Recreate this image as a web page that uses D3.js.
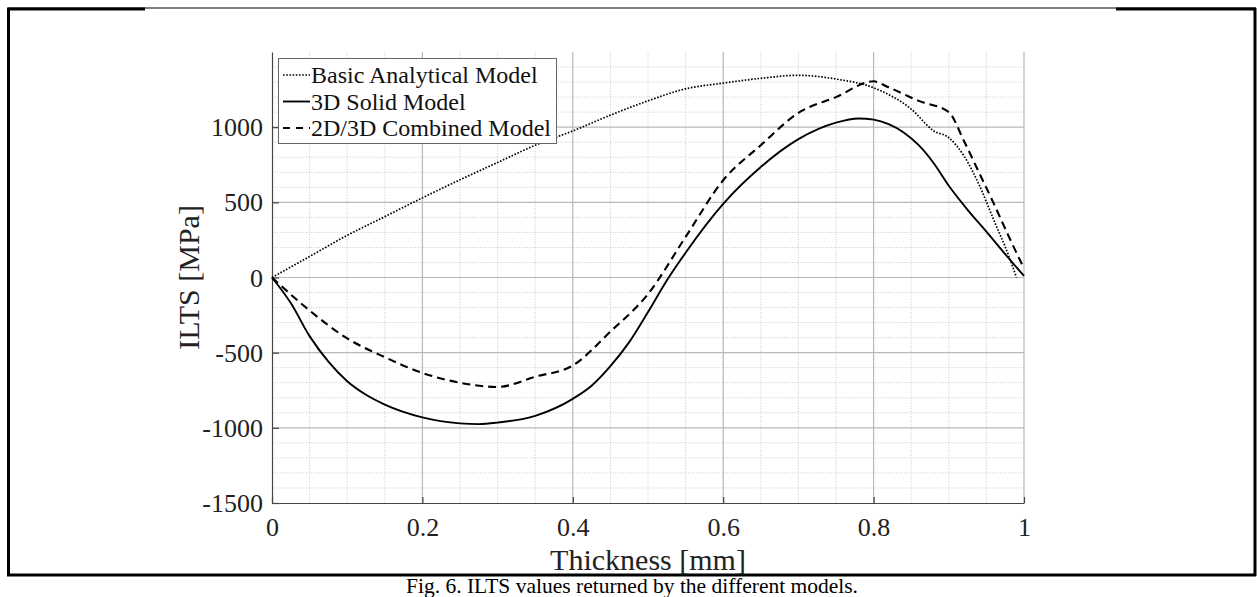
<!DOCTYPE html>
<html>
<head>
<meta charset="utf-8">
<script src="https://cdn.jsdelivr.net/npm/d3@7"></script>
<style>
  html, body { margin: 0; padding: 0; background: #fff; }
  svg { display: block; font-family: "Liberation Serif", "Times New Roman", serif; }
</style>
</head>
<body>
<svg id="chart" width="1258" height="597"></svg>
<script>
// Data (thickness in mm, ILTS in MPa)
const basicT = [0, 0.05, 0.1, 0.15, 0.2, 0.25, 0.3, 0.35, 0.4, 0.45, 0.5, 0.55, 0.6, 0.65, 0.7, 0.75, 0.8, 0.85, 0.88, 0.9, 0.92, 0.94, 0.96, 0.98, 0.99];
const basicV = [0, 140, 280, 405, 530, 650, 765, 880, 975, 1080, 1175, 1255, 1293, 1325, 1345, 1320, 1262, 1120, 975, 930, 810, 620, 380, 140, 0];

const solidT = [0, 0.025, 0.05, 0.075, 0.1, 0.125, 0.15, 0.2, 0.25, 0.275, 0.3, 0.35, 0.4, 0.425, 0.45, 0.475, 0.5, 0.525, 0.55, 0.6, 0.65, 0.7, 0.75, 0.78, 0.8, 0.82, 0.84, 0.86, 0.88, 0.9, 0.925, 0.95, 0.975, 1.0];
const solidV = [0, -170, -390, -560, -690, -780, -845, -930, -970, -975, -965, -920, -807, -720, -590, -430, -230, -20, 165, 490, 735, 920, 1030, 1058, 1050, 1020, 965, 880, 760, 610, 450, 305, 155, 10];

const combT = [0, 0.05, 0.1, 0.15, 0.2, 0.25, 0.3, 0.35, 0.4, 0.45, 0.5, 0.55, 0.6, 0.65, 0.7, 0.75, 0.8, 0.82, 0.86, 0.9, 0.92, 0.94, 0.96, 0.98, 1.0];
const combV = [0, -220, -405, -530, -635, -700, -728, -660, -585, -360, -110, 270, 647, 880, 1095, 1200, 1305, 1265, 1175, 1100, 910, 700, 490, 270, 60];

const xTicks = [0, 0.2, 0.4, 0.6, 0.8, 1];
const yTicks = [-1500, -1000, -500, 0, 500, 1000];
const legendNames = ["Basic Analytical Model", "3D Solid Model", "2D/3D Combined Model"];

const svg = d3.select("#chart");

// plot area
const pLeft = 272, pRight = 1024, pTop = 52, pBottom = 503;

const x = d3.scaleLinear().domain([0, 1]).range([pLeft, pRight]);
const y = d3.scaleLinear().domain([-1500, 1500]).range([pBottom, pTop]);

// frame round the figure
const frame = svg.append("g").attr("stroke", "#000").attr("fill", "none");
frame.append("line").attr("x1", 8).attr("x2", 1256).attr("y1", 8).attr("y2", 8).attr("stroke-width", 1.2);
frame.append("line").attr("x1", 7).attr("x2", 145).attr("y1", 9).attr("y2", 9).attr("stroke-width", 3);
frame.append("line").attr("x1", 1116).attr("x2", 1256).attr("y1", 9).attr("y2", 9).attr("stroke-width", 3);
frame.append("line").attr("x1", 8.5).attr("x2", 8.5).attr("y1", 8).attr("y2", 576).attr("stroke-width", 3);
frame.append("line").attr("x1", 1255).attr("x2", 1255).attr("y1", 8).attr("y2", 576).attr("stroke-width", 3);
frame.append("line").attr("x1", 7).attr("x2", 1256).attr("y1", 575).attr("y2", 575).attr("stroke-width", 3);

// minor grid
const xMinor = d3.range(0, 1.0001, 0.05).filter(v => Math.abs(v * 5 - Math.round(v * 5)) > 1e-6);
const yMinor = d3.range(-1500, 1501, 100).filter(v => v % 500 !== 0);
const grid = svg.append("g");
grid.selectAll(".xminor").data(xMinor).join("line")
  .attr("x1", d => x(d)).attr("x2", d => x(d))
  .attr("y1", pTop).attr("y2", pBottom)
  .attr("stroke", "#c4c4c4").attr("stroke-width", 0.9).attr("stroke-dasharray", "1,1.6");
grid.selectAll(".yminor").data(yMinor).join("line")
  .attr("x1", pLeft).attr("x2", pRight)
  .attr("y1", d => y(d)).attr("y2", d => y(d))
  .attr("stroke", "#c4c4c4").attr("stroke-width", 0.9).attr("stroke-dasharray", "1,1.6");

// major grid
grid.selectAll(".xmajor").data(xTicks.slice(1)).join("line")
  .attr("x1", d => x(d)).attr("x2", d => x(d))
  .attr("y1", pTop).attr("y2", pBottom)
  .attr("stroke", "#b8b8b8").attr("stroke-width", 1.2);
grid.selectAll(".ymajor").data(yTicks.slice(1)).join("line")
  .attr("x1", pLeft).attr("x2", pRight)
  .attr("y1", d => y(d)).attr("y2", d => y(d))
  .attr("stroke", "#b8b8b8").attr("stroke-width", 1.2);

// axes
const xAxis = svg.append("g")
  .attr("transform", `translate(0,${pBottom})`)
  .call(d3.axisBottom(x).tickValues(xTicks).tickFormat(d => String(d)).tickSizeInner(-6).tickSizeOuter(0).tickPadding(15));
const yAxis = svg.append("g")
  .attr("transform", `translate(${pLeft},0)`)
  .call(d3.axisLeft(y).tickValues(yTicks).tickFormat(d => String(d)).tickSizeInner(-7).tickSizeOuter(0).tickPadding(9));

[xAxis, yAxis].forEach(a => {
  a.select(".domain").attr("stroke", "#444").attr("stroke-width", 1.2);
  a.selectAll(".tick line").attr("stroke", "#444").attr("stroke-width", 1.2);
  a.selectAll(".tick text")
    .attr("fill", "#222")
    .attr("font-family", "Liberation Serif, Times New Roman, serif")
    .attr("font-size", 26);
});
yAxis.selectAll(".tick text").attr("dy", "0.33em");
xAxis.selectAll(".tick text").attr("dy", "0.71em");

// axis labels
svg.append("text")
  .attr("x", (pLeft + pRight) / 2).attr("y", 570)
  .attr("text-anchor", "middle").attr("font-size", 30).attr("fill", "#222")
  .text("Thickness [mm]");
svg.append("text")
  .attr("transform", `translate(199,${(pTop + pBottom) / 2}) rotate(-90)`)
  .attr("text-anchor", "middle").attr("font-size", 30).attr("fill", "#222")
  .text("ILTS [MPa]");

// series
const line = d3.line().x(d => x(d[0])).y(d => y(d[1])).curve(d3.curveMonotoneX);
const series = [
  { name: legendNames[0], data: d3.zip(basicT, basicV), dash: "1.6,1.6", width: 1.7 },
  { name: legendNames[1], data: d3.zip(solidT, solidV), dash: null, width: 1.9 },
  { name: legendNames[2], data: d3.zip(combT, combV), dash: "8,5", width: 2.1 }
];

svg.append("g").selectAll("path").data(series).join("path")
  .attr("d", s => line(s.data))
  .attr("fill", "none")
  .attr("stroke", "#000")
  .attr("stroke-width", s => s.width)
  .attr("stroke-dasharray", s => s.dash);

// legend
const lg = svg.append("g");
lg.append("rect")
  .attr("x", 278.5).attr("y", 58.5).attr("width", 278).attr("height", 85)
  .attr("fill", "#fff").attr("stroke", "#666").attr("stroke-width", 1);
const rowBase = [83, 109.5, 136];
series.forEach((s, i) => {
  const cy = rowBase[i] - 8;
  lg.append("line")
    .attr("x1", 283).attr("x2", 310).attr("y1", cy).attr("y2", cy)
    .attr("stroke", "#000").attr("stroke-width", s.width)
    .attr("stroke-dasharray", s.dash ? (s.dash === "8,5" ? "7,6" : s.dash) : null);
  lg.append("text")
    .attr("x", 311).attr("y", rowBase[i])
    .attr("font-size", 24).attr("fill", "#111")
    .text(s.name);
});

// caption
svg.append("text")
  .attr("x", 632).attr("y", 593)
  .attr("text-anchor", "middle").attr("font-size", 21.5).attr("fill", "#000")
  .text("Fig. 6. ILTS values returned by the different models.");
</script>
</body>
</html>
